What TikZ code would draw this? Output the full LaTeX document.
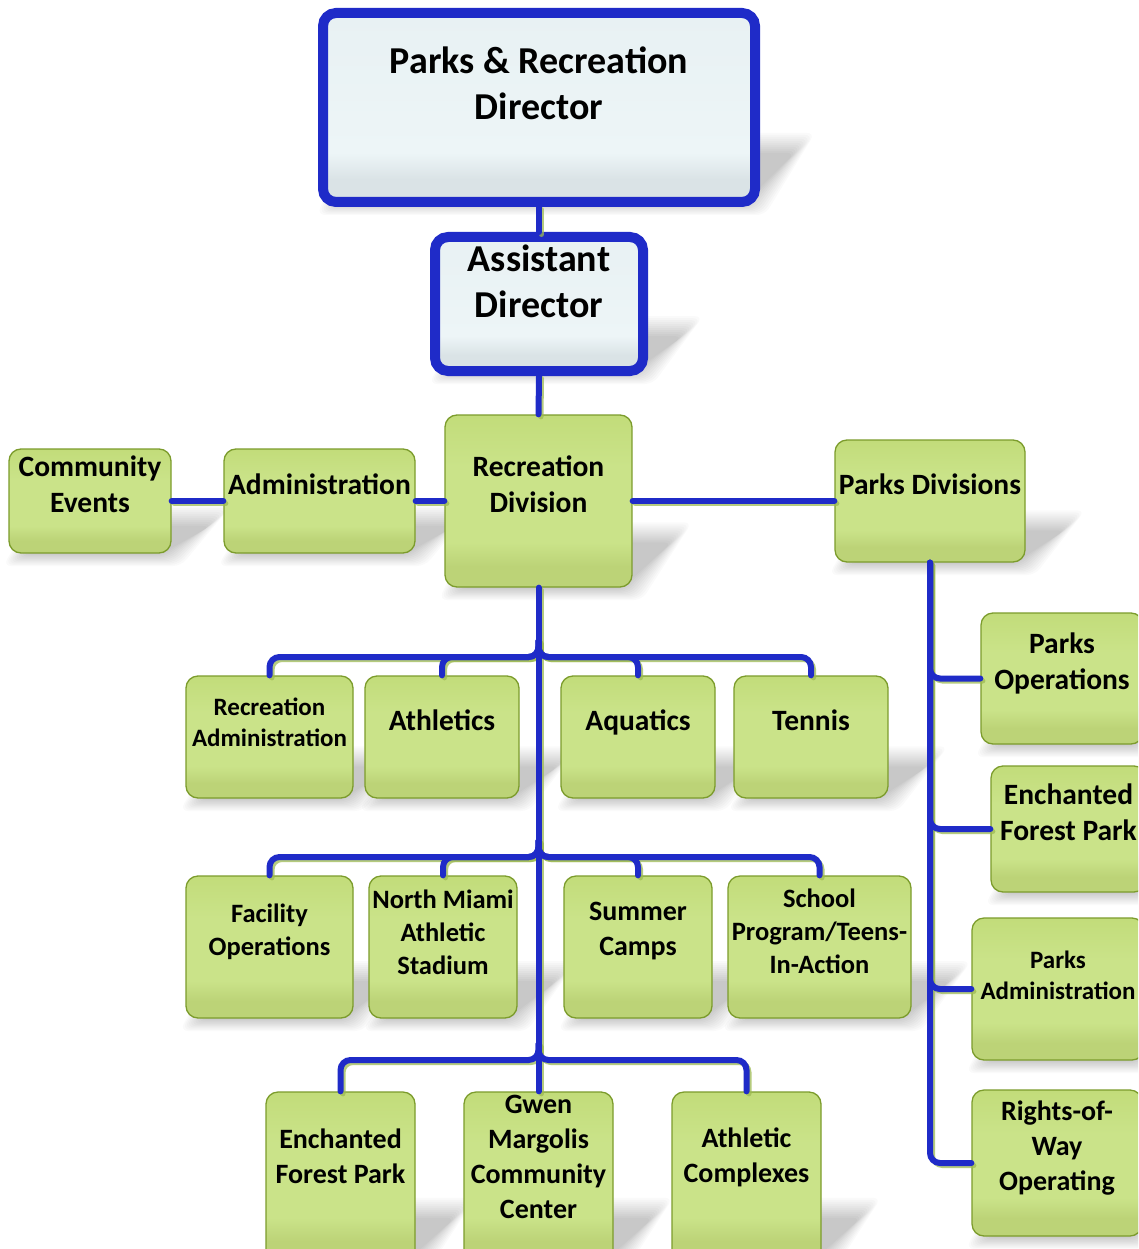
\documentclass[tikz,border=0pt]{standalone}
\usepackage{fontspec}
\setmainfont{Carlito}

% palette
\definecolor{linkblue}{HTML}{1F2BC8}
\definecolor{linkshadecol}{HTML}{9DBA52}
\definecolor{gborder}{HTML}{7C9C2C}
\definecolor{gtop}{HTML}{C2DC7A}
\definecolor{gmid}{HTML}{CAE389}
\definecolor{gbot}{HTML}{BCD377}
\definecolor{dtop}{HTML}{E8F1F3}
\definecolor{dmid}{HTML}{EDF5F7}
\definecolor{dbot}{HTML}{DAE3E6}

% box fills: lighter body with a darker band along the bottom
\pgfdeclareverticalshading{greenfill}{100bp}{color(0bp)=(gbot); color(25bp)=(gbot); color(31bp)=(gbot); color(38bp)=(gmid); color(60bp)=(gmid); color(75bp)=(gtop); color(100bp)=(gtop)}
\pgfdeclareverticalshading{headfill}{100bp}{color(0bp)=(dbot); color(25bp)=(dbot); color(31bp)=(dbot); color(38bp)=(dmid); color(75bp)=(dtop); color(100bp)=(dtop)}

\tikzset{
  gbox/.style={draw=gborder, line width=1.3pt, rounded corners=12pt, shading=greenfill, inner sep=0pt},
  hbox/.style={draw=linkblue, line width=10pt, rounded corners=13pt, shading=headfill, inner sep=0pt},
  shadowlayer/.style={fill=black, fill opacity=0.02, rounded corners=8pt},
  lbl/.style={align=center, inner sep=0pt, text=black},
  fhead/.style={font=\fontsize{38}{46}\selectfont\bfseries},
  fbig/.style={font=\fontsize{29.5}{36}\selectfont\bfseries},
  fmid/.style={font=\fontsize{28}{35}\selectfont\bfseries},
  frow/.style={font=\fontsize{26.5}{33}\selectfont\bfseries},
  fsmall/.style={font=\fontsize{25}{31}\selectfont\bfseries},
  link/.style={draw=linkblue, line width=6pt, line cap=round, rounded corners=10pt},
  linkshade/.style={draw=linkshadecol, line width=5pt, line cap=round, rounded corners=10pt, opacity=0.75},
}

% a box with its soft perspective shadow and its caption
% #1 style, #2 name, #3 left, #4 top, #5 right, #6 bottom, #7 caption centre y, #8 font style, #9 caption
\newcommand\orgbox[9]{%
  \foreach \e in {0,2,...,20} {%
    \fill[shadowlayer] ({#3+14-\e},{#6+1+0.6*\e}) -- ({#5-10+\e},{#6+1+0.6*\e})
      -- ({#5+40+\e},{#6-0.26*(#6-#4)-\e}) -- ({#3+50-\e},{#6-0.26*(#6-#4)-\e}) -- cycle;
  }
  \node[#1, minimum width={#5-#3}, minimum height={#6-#4}] (#2) at ({(#3+#5)/2},{(#4+#6)/2}) {};
  \node[lbl, #8] (#2-t) at ({(#3+#5)/2},#7) {#9};
}

% every connector of the chart, drawn with the style given
\newcommand\orglinks[1]{%
  \draw[#1] (dir.south) -- (asst.north);
  \draw[#1] (asst.south) -- (rdiv.north);
  \draw[#1] (ce.east) -- (adm.west);
  \draw[#1] (adm.east) -- (rdiv.west);
  \draw[#1] (rdiv.east) -- (pdiv.west);
  \draw[#1] (rdiv.south) -- (gwen.north);
  \foreach \c in {radm,ath,aqu,ten} {\draw[#1] ([yshift=16pt]j2) -- (j2) -| (\c.north);}
  \foreach \c in {fac,nms,sum,sch} {\draw[#1] ([yshift=16pt]j3) -- (j3) -| (\c.north);}
  \foreach \c in {efp,acx} {\draw[#1] ([yshift=16pt]j4) -- (j4) -| (\c.north);}
  \foreach \c in {pops,pefp,padm,prow} {\draw[#1] (pdiv.south) |- (\c.west);}
}

\begin{document}
\begin{tikzpicture}[x=1pt, y=-1pt]
\useasboundingbox (0,0) rectangle (1138,1249);
\clip (0,0) rectangle (1138,1249);
\fill[white] (0,0) rectangle (1138,1249);

% leadership
\orgbox{hbox}{dir}{323}{13}{755}{202}{83}{fhead}{Parks \& Recreation\\Director}
\orgbox{hbox}{asst}{435}{237}{643}{371}{281}{fhead}{Assistant\\Director}

% divisions
\orgbox{gbox}{ce}{9}{449}{171}{553}{484}{fbig}{Community\\Events}
\orgbox{gbox}{adm}{224}{449}{415}{553}{484}{fbig}{Administration}
\orgbox{gbox}{rdiv}{445}{415}{632}{587}{484}{fbig}{Recreation\\Division}
\orgbox{gbox}{pdiv}{835}{440}{1025}{562}{484}{fbig}{Parks Divisions}

% recreation units
\orgbox{gbox}{radm}{186}{676}{353}{798}{722}{fsmall}{Recreation\\Administration}
\orgbox{gbox}{ath}{365}{676}{519}{798}{720}{fbig}{Athletics}
\orgbox{gbox}{aqu}{561}{676}{715}{798}{722}{fbig}{Aquatics}
\orgbox{gbox}{ten}{734}{676}{888}{798}{720}{fbig}{Tennis}

\orgbox{gbox}{fac}{186}{876}{353}{1018}{932}{frow}{Facility\\Operations}
\orgbox{gbox}{nms}{369}{876}{517}{1018}{932}{frow}{North Miami\\Athletic\\Stadium}
\orgbox{gbox}{sum}{564}{876}{712}{1018}{931}{fmid}{Summer\\Camps}
\orgbox{gbox}{sch}{728}{876}{911}{1018}{931}{frow}{School\\Program/Teens-\\In-Action}

\orgbox{gbox}{efp}{266}{1092}{415}{1262}{1156}{fmid}{Enchanted\\Forest Park}
\orgbox{gbox}{gwen}{464}{1092}{613}{1262}{1157}{fmid}{Gwen\\Margolis\\Community\\Center}
\orgbox{gbox}{acx}{672}{1092}{821}{1262}{1157}{fmid}{Athletic\\Complexes}

% parks units
\orgbox{gbox}{pops}{981}{613}{1143}{744}{663}{fbig}{Parks\\Operations}
\orgbox{gbox}{pefp}{991}{766}{1146}{892}{812}{fbig}{Enchanted\\Forest Park}
\orgbox{gbox}{padm}{972}{918}{1144}{1060}{975}{fsmall}{Parks\\Administration}
\orgbox{gbox}{prow}{972}{1090}{1142}{1236}{1148}{fmid}{Rights-of-\\Way\\Operating}

% bus junctions on the recreation trunk
\coordinate (j2) at (538.5,657);
\coordinate (j3) at (538.5,857);
\coordinate (j4) at (538.5,1060);

% connectors with their soft offset shade
\begin{scope}[transform canvas={xshift=2.5pt, yshift=-2.5pt}]
  \orglinks{linkshade}
\end{scope}
\orglinks{link}
\end{tikzpicture}
\end{document}
